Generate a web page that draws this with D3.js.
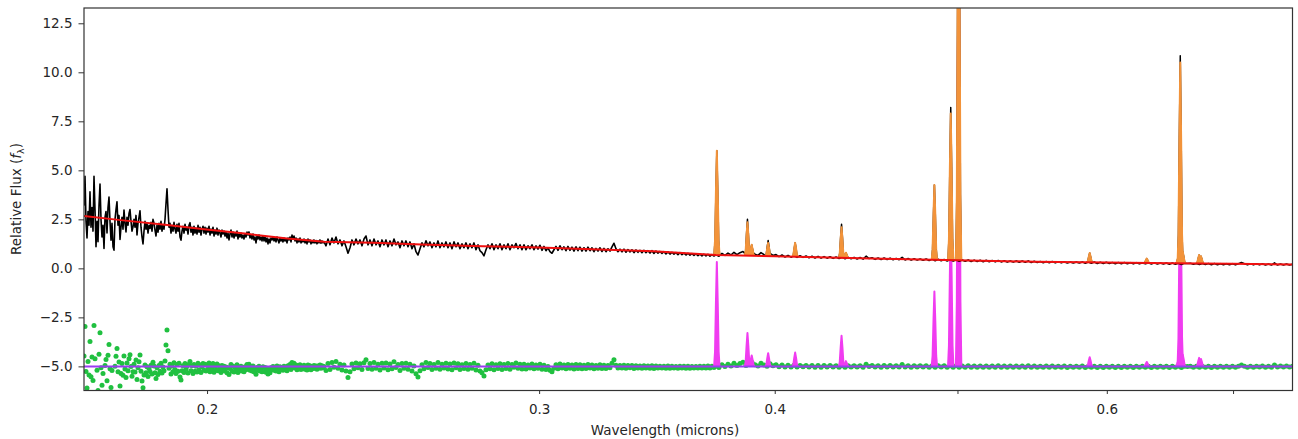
<!DOCTYPE html>
<html><head><meta charset="utf-8">
<script src="https://cdn.jsdelivr.net/npm/d3@7"></script>
<style>
body{margin:0;background:#fff;}
svg{display:block;font-family:"DejaVu Sans",sans-serif;}
</style>
</head><body>
<svg id="chart" width="1298" height="439"></svg>
<script>
// ---- data ----
// observed spectrum, three segments evenly spaced in log wavelength (microns)
const uvRange = [0.1721, 0.2307];
const uvFlux = [
 3.2,4.7,2.4,1.55,2.9,2.2,3.9,2.1,3.1,1.9,
 4.7,3.0,1.1,2.4,1.36,3.2,4.3,2.5,1.6,2.2,
 1.02,2.6,2.9,1.8,3.1,3.64,2.4,1.44,2.3,1.1,
 0.93,2.5,3.0,3.4,2.2,2.7,1.47,2.1,2.6,2.0,
 2.97,2.3,1.86,2.6,2.2,2.8,3.0,2.4,1.9,2.12,
 2.5,2.1,2.7,1.7,2.3,2.6,2.94,2.1,1.6,1.25,
 1.9,2.4,2.0,2.3,1.8,2.2,2.04,2.35,1.9,2.5,
 2.3,1.95,1.65,2.2,1.85,2.3,2.0,2.4,1.9,2.2,
 2.0,2.5,3.3,4.06,3.0,2.1,2.3,1.8,2.2,1.9,
 2.35,2.0,1.8,2.25,1.9,2.3,1.6,1.44,1.9,2.15,
 1.8,2.25,1.95,2.1,1.75,2.2,2.33,1.85,2.1,1.7,
 2.15,1.8,2.05,1.75,2.2,1.85,2.1,1.7,2.0,2.15,
 1.8,2.1,1.75,2.05,1.85,2.15,1.7,2.0,1.8,2.1,
 1.65,1.95,1.75,2.05,1.7,1.95,1.8,1.6,1.95,1.75,
 1.9,1.65,1.85,1.55,1.8,1.45,1.75,1.95,1.6,1.85,
 1.55,1.8,1.65,1.9,1.5,1.75,1.6,1.8,1.55,1.7,
 1.5,1.75,1.6,1.85,1.7,1.86,1.55,1.7,1.5,1.75,
 1.45,1.6,1.3,1.65,1.5,1.7,1.45,1.6,1.4,1.65,
 1.4,1.6,1.35,1.55,1.25,1.5,1.3,1.55,1.45,1.6,
 1.4,1.55,1.35,1.6,1.45,1.3,1.55,1.4,1.5,1.35,
 1.55,1.4,1.5,1.3,1.55,1.45,1.6,1.35,1.7,1.5,
 1.65,1.4,1.55,1.3,1.5,1.35,1.55,1.3,1.45,1.35,
 1.5,1.3,1.45,1.25,1.5,1.35,1.45,1.25,1.4,1.3,
 1.45,1.3,1.42,1.25,1.4,1.3,1.45,1.28,1.4,1.3,
 1.36];
const midRange = [0.2307, 0.3723];
const midFlux = [
 1.36,1.15,1.5,1.2,1.55,1.3,1.6,1.25,1.45,1.15,
 1.4,1.1,0.77,1.05,1.45,1.2,1.5,1.25,1.45,1.15,
 1.5,1.65,1.2,1.45,1.15,1.5,1.2,1.4,1.1,1.45,
 1.2,1.45,1.1,1.4,1.15,1.5,1.2,1.35,1.05,1.4,
 1.15,1.4,1.1,1.35,1.0,1.25,0.85,0.68,1.0,1.3,
 1.1,1.41,1.15,1.35,1.05,1.3,1.1,1.4,1.05,1.3,
 1.1,1.35,1.05,1.3,1.0,1.35,1.1,1.3,1.0,1.25,
 1.05,1.3,1.0,1.25,1.05,1.3,0.95,1.2,0.9,0.8,
 0.64,0.95,1.2,1.0,1.25,0.95,1.2,1.0,1.25,0.95,
 1.2,1.0,1.25,0.95,1.2,1.05,1.27,1.0,1.2,0.95,
 1.2,0.95,1.15,1.0,1.2,0.95,1.15,0.98,1.18,0.92,
 1.12,0.9,1.05,0.85,0.77,0.95,1.12,0.92,1.15,0.95,
 1.1,0.9,1.12,0.92,1.08,0.88,1.1,0.9,1.08,0.88,
 1.05,0.88,1.08,0.9,1.05,0.85,1.02,0.88,1.05,0.86,
 1.02,0.85,1.0,0.88,1.1,1.28,1.0,0.85,0.98,0.84,
 0.98,0.82,0.96,0.84,0.95,0.8,0.94,0.82,0.92,0.8,
 0.92,0.8,0.9,0.78,0.9,0.76,0.88,0.78,0.86,0.76,
 0.85,0.74,0.84,0.73,0.82,0.72,0.8,0.7,0.8,0.7,
 0.78,0.68,0.77,0.67,0.75,0.66,0.74,0.65,0.73,0.64,
 0.72,0.63,0.72,0.62,0.7,0.63,0.69];
const optRange = [0.3723, 0.7527];
const optFlux = [
 0.7,0.62,0.76,0.66,0.78,0.68,0.82,0.7,0.8,0.86,
 0.7,0.8,0.84,0.72,0.66,0.8,0.7,0.64,0.76,0.66,
 0.7,0.6,0.68,0.58,0.66,0.57,0.65,0.56,0.64,0.56,
 0.63,0.54,0.62,0.53,0.61,0.52,0.6,0.52,0.59,0.51,
 0.58,0.5,0.57,0.49,0.56,0.49,0.56,0.48,0.55,0.47,
 0.62,0.5,0.54,0.46,0.53,0.45,0.53,0.45,0.52,0.44,
 0.51,0.44,0.56,0.43,0.5,0.42,0.49,0.42,0.48,0.41,
 0.48,0.4,0.47,0.39,0.46,0.39,0.45,0.38,0.45,0.37,
 0.44,0.36,0.43,0.36,0.43,0.35,0.42,0.35,0.41,0.34,
 0.41,0.34,0.4,0.33,0.4,0.33,0.39,0.32,0.38,0.32,
 0.38,0.31,0.37,0.31,0.38,0.3,0.36,0.3,0.35,0.29,
 0.35,0.29,0.35,0.28,0.34,0.28,0.34,0.27,0.33,0.27,
 0.33,0.27,0.33,0.26,0.32,0.26,0.32,0.25,0.31,0.25,
 0.31,0.25,0.3,0.24,0.3,0.24,0.3,0.24,0.29,0.23,
 0.29,0.23,0.28,0.23,0.28,0.22,0.28,0.22,0.27,0.22,
 0.27,0.21,0.27,0.21,0.26,0.2,0.26,0.25,0.26,0.21,
 0.25,0.2,0.25,0.2,0.25,0.19,0.25,0.19,0.24,0.19,
 0.24,0.19,0.24,0.18,0.24,0.3,0.23,0.18,0.23,0.18,
 0.23,0.18,0.23,0.17,0.22,0.17,0.28,0.17,0.22,0.17,
 0.22,0.17,0.21];

// continuum model (red)
const contWave = [0.1721,0.180,0.190,0.1993,0.210,0.2206,0.2307,0.245,0.26,0.28,0.30,0.32,0.345,0.3723,0.40,0.45,0.50,0.55,0.60,0.65,0.70,0.7527];
const contFlux = [2.67,2.46,2.22,2.0,1.76,1.52,1.36,1.3,1.22,1.13,1.07,0.98,0.87,0.68,0.62,0.5,0.41,0.34,0.30,0.26,0.23,0.20];

// emission lines: centre (microns), model peak (orange), data peak (black)
const lineWave      = [0.3727,0.3869,0.3889,0.3968,0.4101,0.4340,0.4363,0.4861,0.4959,0.5007,0.5876,0.6300,0.6548,0.6563,0.6583,0.6716,0.6731];
const lineModelPeak = [6.0,  2.35, 1.2,  1.3,  1.3,  2.1,  0.8,  4.25, 7.9,  24,   0.78, 0.5,  0.55, 10.5, 0.85, 0.68, 0.62];
const lineDataPeak  = [6.0,  2.5,  1.2,  1.42, 1.3,  2.25, 0.8,  4.25, 8.2,  24,   0.78, 0.5,  0.55, 10.85,0.85, 0.68, 0.62];

const residualOffset = -5;
const xTickValues = [0.2,0.3,0.4,0.5,0.6,0.7];
const xTickLabels = ["0.2","0.3","0.4","","0.6",""];
const yTickValues = [-5,-2.5,0,2.5,5,7.5,10,12.5];

// ---- drawing ----
const L=84, R=1292.5, T=8, B=390.5;
const svg = d3.select("#chart");
const x = d3.scaleLog().domain([0.1721,0.7527]).range([L,R]);
const y = d3.scaleLinear().domain([-6.23,13.28]).range([B,T]);
const contAt = d3.scaleLog().domain(contWave).range(contFlux);

function segment(range, vals){
  const n = vals.length;
  return vals.map((v,i)=>({w: range[0]*Math.pow(range[1]/range[0], i/(n-1)), f: v}));
}
const spec = segment(uvRange,uvFlux).concat(segment(midRange,midFlux).slice(1), segment(optRange,optFlux).slice(1));
const cont = contWave.map((w,i)=>({w, f: contFlux[i]}));

// line profile shape (in units of line width)
const profOff = [-3,-2,-1,0,1,2,3];
const profH = [0,0.14,0.61,1,0.61,0.14,0];
const SIG = 0.0011;
function spike(c, base, peak){
  return profOff.map((o,k)=>({w: c*Math.exp(o*SIG), f: base + (peak-base)*profH[k]}));
}

svg.append("defs").append("clipPath").attr("id","clip")
  .append("rect").attr("x",L).attr("y",T).attr("width",R-L).attr("height",B-T);
const g = svg.append("g").attr("clip-path","url(#clip)");
const line = d3.line().x(d=>x(d.w)).y(d=>y(d.f));

// residuals (green dots)
const resid = spec.map(d=>({w:d.w, f: d.f - contAt(d.w) + residualOffset}));
g.selectAll("circle.res").data(resid).join("circle").attr("class","res")
  .attr("cx",d=>x(d.w)).attr("cy",d=>y(d.f)).attr("r",2.5).attr("fill","#20c040");

// line-only model (magenta) at offset
lineWave.forEach((c,i)=>{
  const amp = lineModelPeak[i] - contAt(c);
  g.append("path").datum(spike(c, residualOffset, residualOffset+amp)).attr("d",line)
    .attr("fill","#f03cf0").attr("stroke","#f03cf0").attr("stroke-width",2).attr("stroke-linejoin","round");
});
// zero line for residuals
g.append("line").attr("x1",L).attr("x2",R).attr("y1",y(residualOffset)).attr("y2",y(residualOffset))
  .attr("stroke","#9a3cf2").attr("stroke-width",2);

// observed spectrum (black)
g.append("path").datum(spec).attr("d",line).attr("fill","none")
  .attr("stroke","#000").attr("stroke-width",1.6).attr("stroke-linejoin","round");
lineWave.forEach((c,i)=>{
  g.append("path").datum(spike(c, contAt(c), lineDataPeak[i])).attr("d",line)
    .attr("fill","#000").attr("stroke","#000").attr("stroke-width",1.5).attr("stroke-linejoin","round");
});
// full model (orange)
lineWave.forEach((c,i)=>{
  g.append("path").datum(spike(c, contAt(c), lineModelPeak[i])).attr("d",line)
    .attr("fill","#f2933a").attr("stroke","#f2933a").attr("stroke-width",2).attr("stroke-linejoin","round");
});
// continuum (red)
g.append("path").datum(cont).attr("d",line).attr("fill","none")
  .attr("stroke","#f01010").attr("stroke-width",2).attr("stroke-linejoin","round");

// axes
const xAxis = svg.append("g").attr("transform",`translate(0,${B})`)
  .call(d3.axisBottom(x).tickValues(xTickValues).tickFormat((d,i)=>xTickLabels[i]).tickSize(3.5).tickPadding(10.5).tickSizeOuter(0));
const yAxis = svg.append("g").attr("transform",`translate(${L},0)`)
  .call(d3.axisLeft(y).tickValues(yTickValues).tickFormat(d3.format(".1f")).tickSize(5.5).tickPadding(6).tickSizeOuter(0));
[xAxis,yAxis].forEach(a=>{
  a.select(".domain").remove();
  a.selectAll("text").attr("font-size",13.5).attr("fill","#262626").attr("font-family","DejaVu Sans, sans-serif");
  a.selectAll("line").attr("stroke","#333");
});
yAxis.selectAll("text").text(d=>d3.format(".1f")(d).replace("-","\u2212"));

svg.append("rect").attr("x",L).attr("y",T).attr("width",R-L).attr("height",B-T)
  .attr("fill","none").attr("stroke","#333").attr("stroke-width",1.2);

svg.append("text").attr("x",665).attr("y",435).attr("text-anchor","middle")
  .attr("font-size",13.5).attr("fill","#262626").text("Wavelength (microns)");
const yl = svg.append("text").attr("transform","translate(21,199) rotate(-90)").attr("text-anchor","middle")
  .attr("font-size",13.5).attr("fill","#262626");
yl.append("tspan").text("Relative Flux (");
yl.append("tspan").attr("font-style","italic").text("f");
yl.append("tspan").attr("font-size",9.5).attr("dy",3).text("λ");
yl.append("tspan").attr("dy",-3).text(")");
</script>
</body></html>
